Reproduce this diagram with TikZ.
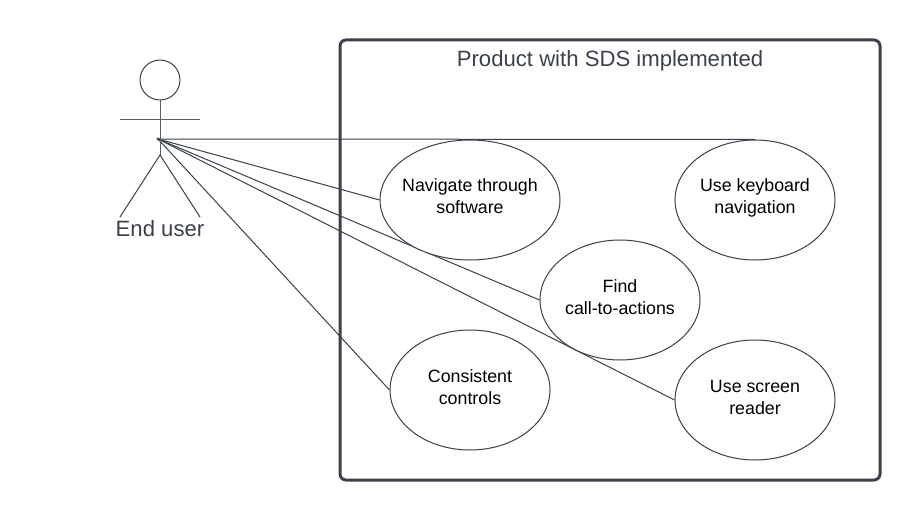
\documentclass[tikz,border=0pt]{standalone}
\usepackage{fontspec}
\setmainfont{Liberation Sans}
\usetikzlibrary{shapes.geometric}
\usetikzlibrary{backgrounds}
\definecolor{slate}{HTML}{3A414A}
\begin{document}
\begin{tikzpicture}[x=0.75pt,y=-0.75pt,semithick]
	\tikzset{
		usecase/.style={draw=slate, ellipse, fill=white, line width=0.75pt, inner sep=-6pt, minimum height=90pt, align=center, font=\fontsize{13.35pt}{16.5pt}\selectfont, text=black, text height=27pt, text depth=6pt},
		link/.style={draw=slate, line width=0.75pt},
		stick/.style={draw=slate!85, line width=0.75pt},
	}
	\useasboundingbox (0,0) rectangle (920,520);

	\node[draw=slate, line width=2.25pt, rounded corners=4.5pt, minimum width=405pt, minimum height=330pt, inner sep=0pt] (product) at (610,260) {};
	\node[text=slate, font=\fontsize{16.6pt}{20pt}\selectfont] (title) at (610,61) {Product with SDS implemented};

	\node[usecase, minimum width=135pt] (navigate) at (470,200) {Navigate through\\software};
	\node[usecase, minimum width=120pt] (keyboard) at (755,200) {Use keyboard\\navigation};
	\node[usecase, minimum width=120pt] (find) at (620,300) {Find\\call-to-actions};
	\node[usecase, minimum width=120pt] (screen) at (755,400) {Use screen\\reader};
	\node[usecase, minimum width=120pt] (controls) at (470,390) {Consistent\\controls};

	% stick figure
	\node[draw=slate, circle, line width=0.75pt, minimum size=30pt, inner sep=0pt] (head) at (160,80) {};
	\coordinate (hip) at (160,155);
	\coordinate (armL) at (120,120);
	\coordinate (armR) at (200,120);
	\coordinate (footL) at (120,217);
	\coordinate (footR) at (200,217);
	\coordinate (hub) at (158,139);
	\draw[stick] (head.south) -- (hip);
	\draw[stick] (armL) -- (armR);
	\draw[link] (footL) -- (hip) -- (footR);
	\fill[slate] (hub) circle (1.2pt);
	\node[text=slate, font=\fontsize{16.6pt}{20pt}\selectfont] (actor) at (160,229) {End user};

	\begin{scope}[on background layer]
		\foreach \j in {navigate,find,screen,controls}{
			\draw[link] (hub) -- (\j.west);
		}
		\draw[link] (hub) -- (keyboard.north);
	\end{scope}
\end{tikzpicture}
\end{document}
